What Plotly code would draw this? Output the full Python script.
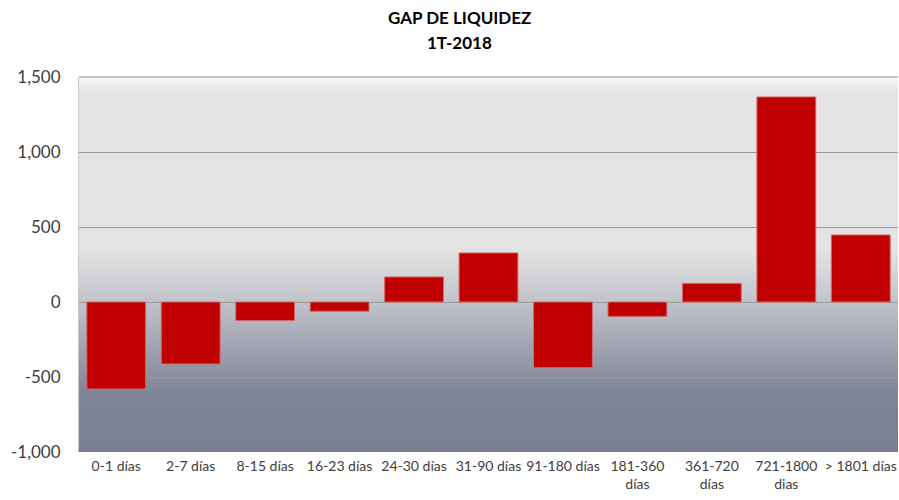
import plotly.graph_objects as go

categories = ["0-1 días", "2-7 días", "8-15 días", "16-23 días", "24-30 días",
              "31-90 días", "91-180 días", "181-360<br>días", "361-720<br>días",
              "721-1800<br>dias", "> 1801 días"]
gap_values = [-580, -413, -124, -62, 167, 327, -438, -96, 124, 1367, 447]
y_ticks = [-1000, -500, 0, 500, 1000, 1500]
y_tick_labels = ["-1,000", "-500", "0", "500", "1,000", "1,500"]
title_lines = ["GAP DE LIQUIDEZ", "1T-2018"]

fig = go.Figure()
fig.add_trace(go.Bar(
    x=categories, y=gap_values,
    marker=dict(color="#C00000", line=dict(color="#D46A6A", width=1)),
    showlegend=False,
))

# gradient background (styling)
stops = [(1500, (248, 248, 248)), (1400, (228, 228, 228)), (350, (228, 228, 228)),
         (0, (193, 195, 202)), (-600, (127, 133, 151)), (-1000, (122, 128, 146))]

def col_at(v):
    for (v0, c0), (v1, c1) in zip(stops[:-1], stops[1:]):
        if v1 <= v <= v0:
            t = (v0 - v) / (v0 - v1)
            return "rgb(%d,%d,%d)" % tuple(round(a + (b - a) * t) for a, b in zip(c0, c1))
    return "rgb(122,128,146)"

n = 125
step = 2500 / n
shapes = []
for i in range(n):
    top = 1500 - i * step
    bot = top - step
    shapes.append(dict(type="rect", xref="paper", yref="y", x0=0, x1=1,
                       y0=bot, y1=top + 0.5, fillcolor=col_at((top + bot) / 2),
                       line=dict(width=0), layer="below"))
# top border line of plot area
shapes.append(dict(type="line", xref="paper", yref="paper", x0=0, x1=1, y0=1, y1=1,
                   line=dict(color="#b0b0b0", width=1.5), layer="above"))

annotations = [
    dict(text="<b>%s</b>" % title_lines[0], xref="paper", yref="paper", x=0.464, y=1.16,
         xanchor="center", yanchor="middle", showarrow=False,
         font=dict(size=17, color="#000000")),
    dict(text="<b>%s</b>" % title_lines[1], xref="paper", yref="paper", x=0.464, y=1.093,
         xanchor="center", yanchor="middle", showarrow=False,
         font=dict(size=17, color="#000000")),
]

fig.update_layout(
    width=899, height=500,
    margin=dict(l=79, r=1, t=77, b=48),
    paper_bgcolor="white", plot_bgcolor="white",
    shapes=shapes, annotations=annotations,
    bargap=0.21,
    font=dict(family="Lato, Noto Sans, sans-serif", color="#404040"),
    xaxis=dict(tickfont=dict(size=14), showgrid=False, showline=False, ticks="",
               ticklabelstandoff=4, automargin=False),
    yaxis=dict(range=[-1000, 1500], tickvals=y_ticks, ticktext=y_tick_labels,
               tickfont=dict(size=17), showgrid=True, gridcolor="#9a9a9a", gridwidth=1,
               zeroline=True, zerolinecolor="#9a9a9a", zerolinewidth=1,
               showline=True, linecolor="#c8c8c8", linewidth=1, ticks="",
               ticklabelstandoff=14, automargin=False),
)

fig.write_html("out.html", config={"displayModeBar": False},
               post_script="document.body.style.margin='0';document.body.style.overflow='hidden';")
